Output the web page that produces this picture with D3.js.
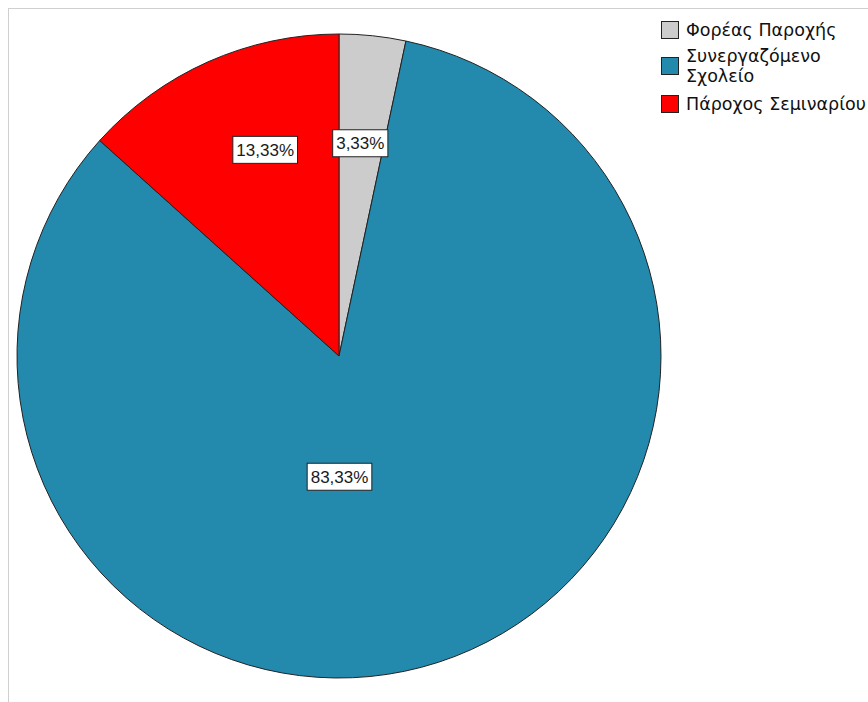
<!DOCTYPE html>
<html><head><meta charset="utf-8">
<script src="https://cdn.jsdelivr.net/npm/d3@7"></script>
<style>body{margin:0;background:#fff}svg{display:block}</style>
</head><body>
<script>
const categories = ["Φορέας Παροχής", "Συνεργαζόμενο Σχολείο", "Πάροχος Σεμιναρίου"];
const legendLines = [["Φορέας Παροχής"], ["Συνεργαζόμενο", "Σχολείο"], ["Πάροχος Σεμιναρίου"]];
const values = [1, 25, 4];
const percentLabels = ["3,33%", "83,33%", "13,33%"];
const colors = ["#cccccc", "#248aad", "#ff0000"];

const W = 868, H = 702;
const svg = d3.select("body").append("svg").attr("width", W).attr("height", H);

// frame
svg.append("line").attr("x1", 8.5).attr("x2", 8.5).attr("y1", 8).attr("y2", H).attr("stroke", "#cfcfcf");
svg.append("line").attr("x1", 8).attr("x2", W).attr("y1", 8.5).attr("y2", 8.5).attr("stroke", "#cfcfcf");

const cx = 339, cy = 356, R = 322;
const pie = d3.pie().sort(null).value(d => d)(values);
const arc = d3.arc().innerRadius(0).outerRadius(R);
const g = svg.append("g").attr("transform", `translate(${cx},${cy})`);
g.selectAll("path").data(pie).join("path")
  .attr("d", arc).attr("fill", (d, i) => colors[i])
  .attr("stroke", "#222").attr("stroke-width", 1);

// label placement (angle offset in rad, radius fraction)
const labelPlace = [[-0.005, 0.664], [0.31, 0.375], [0.075, 0.68]];
pie.forEach((d, i) => {
  const a = (d.startAngle + d.endAngle) / 2 + labelPlace[i][0];
  const r = R * labelPlace[i][1];
  const x = r * Math.sin(a), y = -r * Math.cos(a);
  const lg = g.append("g").attr("transform", `translate(${x},${y})`);
  const t = lg.append("text").text(percentLabels[i])
    .attr("font-family", "Liberation Sans, Arial, sans-serif").attr("font-size", 17)
    .attr("text-anchor", "middle").attr("dy", "0.36em").attr("fill", "#1a1a1a");
  const bb = t.node().getBBox();
  lg.insert("rect", "text").attr("x", bb.x - 3.5).attr("y", -13.5)
    .attr("width", bb.width + 7).attr("height", 27)
    .attr("fill", "#fff").attr("stroke", "#222");
});

// legend
const lgd = svg.append("g");
const rowY = [21, 57, 95];
categories.forEach((c, i) => {
  lgd.append("rect").attr("x", 661.5).attr("y", rowY[i] + 0.5).attr("width", 17).attr("height", 17)
    .attr("fill", colors[i]).attr("stroke", "#222");
  const n = legendLines[i].length;
  legendLines[i].forEach((ln, j) => {
    lgd.append("text").text(ln).attr("x", 686)
      .attr("y", rowY[i] + 15 + (j - (n - 1) / 2) * 20.6)
      .attr("font-family", "DejaVu Sans, sans-serif").attr("font-size", 17.5).attr("fill", "#111");
  });
});
</script>
</body></html>
